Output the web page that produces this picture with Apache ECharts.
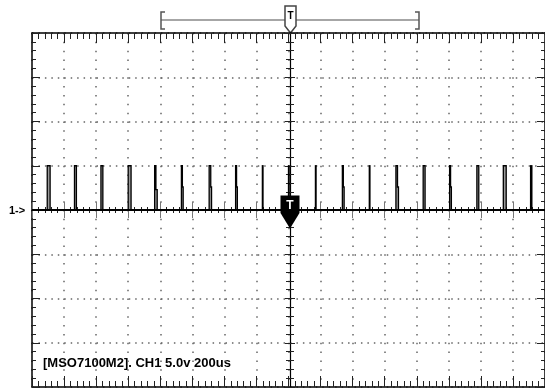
<!DOCTYPE html>
<html>
<head>
<meta charset="utf-8">
<script src="https://cdn.jsdelivr.net/npm/echarts@6/dist/echarts.min.js"></script>
<style>
html, body { margin: 0; padding: 0; background: #fff; }
#scope { width: 545px; height: 390px; }
</style>
</head>
<body>
<div id="scope"></div>
<script>
// 时间轴 (us): 16 格, 200us/div ; 电压轴 (V): 8 格, 5V/div
var timeRange = [-1600, 1600];
var timeDiv = 200;
var voltRange = [-20, 20];
var voltDiv = 5;

// 脉冲: 上升沿时刻(us), 宽度(us), 下降沿台阶电压(V), 台阶时长(us)
var pulseStarts = [-1505, -1335, -1170, -1000, -835, -668, -495, -330, -163, 0, 168, 336, 504, 670, 840, 1005, 1175, 1340, 1510];
var pulseWidths = [18, 12, 12, 18, 8, 6, 10, 6, 4, 4, 4, 6, 4, 10, 12, 6, 12, 18, 8];
var pulseShelf  = [0, 0, 0, 0, 2.3, 2.6, 2.6, 2.6, 0, 0, 0, 2.6, 0, 2.6, 0, 2.6, 0, 0, 0];
var shelfLen    = [0, 0, 0, 0, 8, 5, 5, 5, 0, 0, 0, 5, 0, 6, 0, 5, 0, 0, 0];
var highLevel = 5;
var baseLevel = 0;

// 每个脉冲的折线点
function pulsePoints(i) {
    var t = pulseStarts[i], w = pulseWidths[i];
    var pts = [[t, baseLevel], [t, highLevel], [t + w, highLevel]];
    if (pulseShelf[i] > 0) {
        pts.push([t + w, pulseShelf[i]], [t + w + shelfLen[i], pulseShelf[i]], [t + w + shelfLen[i], baseLevel]);
    } else {
        pts.push([t + w, baseLevel]);
    }
    return pts;
}
var pulseIndex = pulseStarts.map(function (v, i) { return [v, i]; });

var dotColor = '#666';

function xAx(extra) {
    return Object.assign({
        type: 'value', min: timeRange[0], max: timeRange[1], interval: timeDiv,
        axisLabel: { show: false }, splitLine: { show: false }
    }, extra);
}
function yAx(extra) {
    return Object.assign({
        type: 'value', min: voltRange[0], max: voltRange[1], interval: voltDiv,
        axisLabel: { show: false }, splitLine: { show: false }
    }, extra);
}

var scopeChart = echarts.init(document.getElementById('scope'));
var scopeOption = {
    animation: false,
    backgroundColor: '#fff',
    grid: { left: 32, top: 33, width: 516, height: 354 },
    xAxis: [
        // 下边框
        xAx({
            position: 'bottom',
            axisLine: { onZero: false, lineStyle: { color: '#000', width: 1.5 } },
            axisTick: { inside: true, length: 11, lineStyle: { color: '#222' } },
            minorTick: { show: true, splitNumber: 5, length: 6, lineStyle: { color: '#222' } },
            splitLine: { show: true, lineStyle: { color: dotColor, width: 1.5, type: [1.5, 7.35] } }
        }),
        // 上边框
        xAx({
            position: 'top',
            axisLine: { onZero: false, lineStyle: { color: '#000', width: 1.5 } },
            axisTick: { inside: true, length: 10, lineStyle: { color: '#222' } },
            minorTick: { show: true, splitNumber: 5, length: 6, lineStyle: { color: '#222' } }
        }),
        // 中心横线 (上半刻度)
        xAx({
            position: 'bottom', offset: -177,
            axisLine: { onZero: false, lineStyle: { color: '#000', width: 1.2 } },
            axisTick: { inside: true, length: 8, lineStyle: { color: '#777' } },
            minorTick: { show: true, splitNumber: 5, length: 3, lineStyle: { color: '#222' } }
        }),
        // 中心横线 (下半刻度)
        xAx({
            position: 'bottom', offset: -177,
            axisLine: { show: false, onZero: false },
            axisTick: { inside: false, length: 8, lineStyle: { color: '#777' } },
            minorTick: { show: true, splitNumber: 5, length: 3, lineStyle: { color: '#222' } }
        })
    ],
    yAxis: [
        yAx({
            position: 'left',
            axisLine: { onZero: false, lineStyle: { color: '#000', width: 1.5 } },
            axisTick: { inside: true, length: 8, lineStyle: { color: '#222' } },
            minorTick: { show: true, splitNumber: 5, length: 4, lineStyle: { color: '#222' } },
            splitLine: { show: true, lineStyle: { color: dotColor, width: 1.5, type: [1.5, 4.95] } }
        }),
        yAx({
            position: 'right',
            axisLine: { onZero: false, lineStyle: { color: '#000', width: 1.5 } },
            axisTick: { inside: true, length: 8, lineStyle: { color: '#222' } },
            minorTick: { show: true, splitNumber: 5, length: 4, lineStyle: { color: '#222' } }
        }),
        yAx({
            position: 'left', offset: -258,
            axisLine: { onZero: false, lineStyle: { color: '#000', width: 1.2 } },
            axisTick: { inside: true, length: 5, lineStyle: { color: '#222' } },
            minorTick: { show: true, splitNumber: 5, length: 4, lineStyle: { color: '#222' } }
        }),
        yAx({
            position: 'left', offset: -258,
            axisLine: { show: false, onZero: false },
            axisTick: { inside: false, length: 5, lineStyle: { color: '#222' } },
            minorTick: { show: true, splitNumber: 5, length: 4, lineStyle: { color: '#222' } }
        })
    ],
    series: [{
        // 基线
        name: 'CH1',
        type: 'line',
        xAxisIndex: 0,
        yAxisIndex: 0,
        showSymbol: false,
        data: [[timeRange[0], baseLevel], [timeRange[1], baseLevel]],
        lineStyle: { color: '#000', width: 2 },
        markPoint: {
            // 触发标记
            symbol: 'path://M0,0 L20,0 L20,18 L10,34 L0,18 Z',
            symbolSize: [19, 33],
            symbolOffset: [1.5, 2],
            itemStyle: { color: '#000' },
            label: {
                show: true, formatter: 'T', color: '#fff',
                fontWeight: 'bold', fontSize: 12, offset: [0, -6],
                fontFamily: 'Liberation Sans'
            },
            data: [{ coord: [0, baseLevel] }]
        }
    }, {
        // 脉冲
        type: 'custom',
        xAxisIndex: 0,
        yAxisIndex: 0,
        data: pulseIndex,
        renderItem: function (params, api) {
            var pts = pulsePoints(api.value(1)).map(function (p) { return api.coord(p); });
            return {
                type: 'polygon',
                shape: { points: pts },
                style: { stroke: '#000', lineWidth: 1.3, fill: '#999' }
            };
        }
    }],
    graphic: [
        { type: 'line', shape: { x1: 161, y1: 20, x2: 419, y2: 20 }, style: { stroke: '#888', lineWidth: 1.5 } },
        { type: 'polyline', shape: { points: [[165, 12], [161, 12], [161, 29], [165, 29]] }, style: { stroke: '#555', lineWidth: 1.5, fill: null } },
        { type: 'polyline', shape: { points: [[415, 12], [419, 12], [419, 29], [415, 29]] }, style: { stroke: '#555', lineWidth: 1.5, fill: null } },
        { type: 'polygon', shape: { points: [[285, 6], [296, 6], [296, 26], [290.5, 33], [285, 26]] }, style: { fill: '#fff', stroke: '#444', lineWidth: 1.5 } },
        { type: 'text', x: 290.5, y: 16, style: { text: 'T', font: 'bold 10px "Liberation Sans"', fill: '#000', align: 'center', verticalAlign: 'middle' } },
        { type: 'text', x: 9, y: 205, style: { text: '1->', font: 'bold 11px "Liberation Sans"', fill: '#000' } },
        { type: 'text', x: 43, y: 357, style: { text: '[MSO7100M2]. CH1 5.0v 200us', font: 'bold 13px "Liberation Sans"', fill: '#000' } }
    ]
};
scopeChart.setOption(scopeOption);
</script>
</body>
</html>
